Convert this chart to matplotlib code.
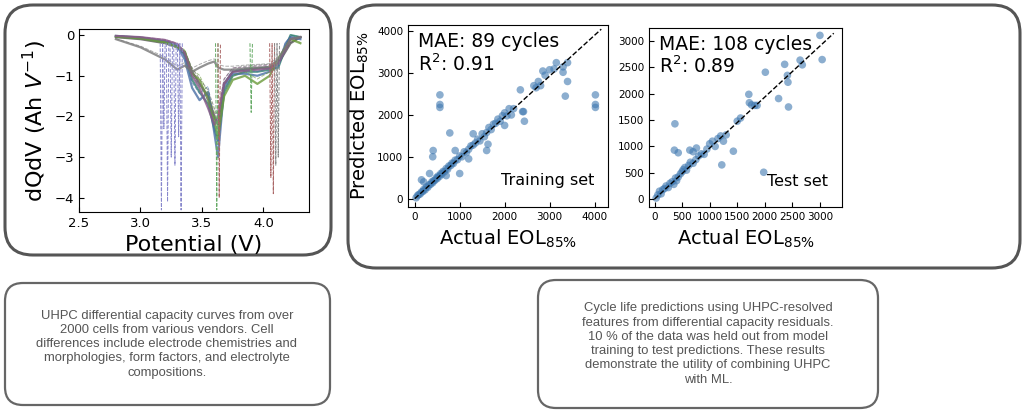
import numpy as np
import matplotlib.pyplot as plt
from matplotlib.patches import FancyBboxPatch

# ---- dQdV curves (potential V, dQ/dV) ----
curve_v = [2.8, 3.0, 3.2, 3.3, 3.36, 3.42, 3.48, 3.55, 3.6, 3.63, 3.68, 3.75, 3.85, 3.95, 4.05, 4.12, 4.18, 4.22, 4.3]
curves_dqdv = {
    '#555555': [-0.05, -0.1, -0.2, -0.3, -0.45, -0.9, -1.2, -1.5, -2.0, -2.2, -1.2, -0.9, -0.85, -0.82, -0.8, -0.7, -0.4, -0.2, -0.05],
    '#2e7d6e': [-0.02, -0.06, -0.15, -0.25, -0.5, -1.1, -1.4, -1.7, -2.3, -2.6, -1.4, -1.0, -0.9, -0.9, -0.85, -0.8, -0.3, 0.0, -0.05],
    '#4a6fa5': [-0.03, -0.07, -0.16, -0.28, -0.6, -1.3, -1.6, -1.4, -2.4, -3.0, -1.3, -0.95, -0.95, -1.0, -0.9, -0.75, -0.2, -0.05, -0.1],
    '#6a9a3a': [-0.04, -0.08, -0.18, -0.3, -0.4, -0.95, -1.1, -1.6, -2.1, -2.5, -1.5, -1.1, -1.0, -1.2, -1.0, -0.6, -0.3, -0.1, -0.2],
    '#8a5a8a': [-0.02, -0.05, -0.12, -0.22, -0.45, -1.0, -1.3, -1.8, -2.2, -2.0, -1.2, -0.9, -0.88, -0.85, -0.82, -0.7, -0.35, -0.1, -0.05],
    '#777777': [-0.1, -0.3, -0.6, -0.85, -0.75, -0.9, -0.8, -0.7, -0.65, -0.8, -0.85, -0.85, -0.82, -0.8, -0.78, -0.6, -0.3, -0.1, -0.05],
}
# sharp dashed spikes (x position, depth)
spike_x = [3.17, 3.19, 3.22, 3.25, 3.28, 3.31, 3.33, 3.62, 3.64, 3.9, 4.06, 4.08, 4.1, 4.12]
spike_y = [-4.3, -2.3, -4.1, -3.0, -3.2, -2.5, -4.3, -4.3, -4.0, -1.9, -3.5, -3.9, -3.2, -3.0]
spike_c = ['#8888cc'] * 7 + ['#66aa66', '#aa6666', '#66aa66', '#aa6666', '#aa6666', '#888888', '#888888']

# ---- training set (actual, predicted) ----
train_actual = [30, 60, 90, 120, 150, 180, 200, 230, 260, 290, 320, 350, 380, 400, 420, 450, 480, 500, 520, 550,
                580, 600, 630, 660, 700, 730, 760, 800, 830, 860, 900, 950, 1000, 1050, 1100, 1150, 1200, 1250, 1300, 1350,
                1400, 1450, 1500, 1550, 1600, 1650, 1700, 1750, 1800, 1850, 1900, 1950, 2000, 2050, 2100, 2150, 2200, 2350,
                2400, 2650, 2700, 2750, 2800, 2900, 3000, 3100, 3150, 3300, 3350, 3400, 560, 560, 560, 400, 410, 780, 4020,
                4020, 4020, 1600, 1630, 2420, 2440, 150, 200, 330, 700, 900, 1000, 1200, 1300, 2000, 2850, 3400, 3300]
train_pred = [20, 70, 100, 110, 160, 170, 220, 210, 280, 270, 330, 340, 400, 380, 430, 440, 500, 480, 540, 530,
              600, 580, 650, 640, 720, 700, 780, 790, 850, 840, 920, 930, 1020, 1000, 1120, 1100, 1180, 1260, 1280, 1330,
              1420, 1380, 1550, 1480, 1580, 1700, 1650, 1780, 1800, 1900, 1850, 1980, 2050, 1980, 2150, 2000, 2150, 2600,
              2080, 2700, 2650, 2800, 2700, 2950, 3080, 3100, 3250, 3020, 2450, 2800, 2480, 2250, 2180, 1000, 1150, 1570, 2480,
              2250, 2180, 1150, 1300, 2080, 1850, 450, 400, 600, 550, 1150, 600, 950, 1550, 1750, 3050, 3250, 3150]
# ---- test set ----
test_actual = [30, 60, 90, 120, 150, 180, 210, 250, 280, 320, 350, 380, 400, 430, 470, 500, 520, 550, 580, 620,
               650, 700, 750, 800, 850, 900, 950, 1000, 1050, 1100, 1150, 1200, 1250, 1300, 370, 360, 430, 640, 700, 760,
               1220, 1430, 1500, 1560, 1710, 1720, 1760, 1820, 1860, 2010, 2250, 2360, 2410, 2420, 2430, 2640, 2680, 3000, 3040, 1980]
test_pred = [20, 80, 150, 100, 180, 200, 250, 220, 300, 330, 280, 400, 350, 420, 480, 520, 560, 600, 550, 640,
             700, 680, 750, 820, 860, 850, 950, 1050, 1100, 1000, 1150, 1200, 1100, 1220, 1430, 930, 880, 930, 900, 970,
             650, 910, 1480, 1540, 1990, 1830, 1790, 1780, 1780, 2410, 1910, 2560, 2350, 2220, 1750, 2640, 2550, 3110, 2650, 510]

fig = plt.figure(figsize=(10.24, 4.15), dpi=100)
W, H = 1024, 415

# background layer in pixel coordinates for the rounded boxes
bg = fig.add_axes([0, 0, 1, 1], zorder=-1)
bg.set_xlim(0, W)
bg.set_ylim(H, 0)
bg.axis('off')

def rbox(x0, y0, x1, y1, lw, ec, r):
    bg.add_patch(FancyBboxPatch((x0 + r, y0 + r), x1 - x0 - 2 * r, y1 - y0 - 2 * r,
                                boxstyle='round,pad=%d' % r, fc='white', ec=ec, lw=lw))

rbox(5, 5, 331, 255, 2.2, '#555555', 28)
rbox(348, 5, 1020, 268, 2.2, '#555555', 28)
rbox(5, 283, 330, 405, 1.6, '#666666', 18)
rbox(538, 280, 878, 408, 1.6, '#666666', 18)

bg.text(167, 344, 'UHPC differential capacity curves from over\n2000 cells from various vendors. Cell\n'
        'differences include electrode chemistries and\nmorphologies, form factors, and electrolyte\ncompositions.',
        ha='center', va='center', fontsize=9.4, color='#555555', family='Liberation Sans', linespacing=1.25)
bg.text(708, 344, 'Cycle life predictions using UHPC-resolved\nfeatures from differential capacity residuals.\n'
        '10 % of the data was held out from model\ntraining to test predictions. These results\n'
        'demonstrate the utility of combining UHPC\nwith ML.',
        ha='center', va='center', fontsize=9.4, color='#555555', family='Liberation Sans', linespacing=1.25)

def axpix(x0, y0, x1, y1):
    return fig.add_axes([x0 / W, 1 - y1 / H, (x1 - x0) / W, (y1 - y0) / H])

# ---- dQdV panel ----
ax = axpix(79, 29, 309, 212)
for c, y in curves_dqdv.items():
    ax.plot(curve_v, y, color=c, lw=1.6, alpha=0.8)
    ax.plot(curve_v, np.array(y) * 0.9, color=c, lw=0.7, ls='--', alpha=0.6)
for x, y, c in zip(spike_x, spike_y, spike_c):
    ax.plot([x - 0.01, x, x + 0.01], [-0.2, y, -0.2], color=c, lw=0.7, ls='--')
ax.set_xlim(2.5, 4.37)
ax.set_ylim(-4.35, 0.15)
ax.set_xticks([2.5, 3.0, 3.5, 4.0])
ax.set_yticks([0, -1, -2, -3, -4])
ax.tick_params(direction='in', labelsize=9.5)
ax.set_xlabel('Potential (V)', fontsize=16)
ax.set_ylabel('dQdV (Ah $V^{-1}$)', fontsize=16)

# ---- scatter panels ----
def scatter_panel(rect, xa, yp, lim, ticks, mae, r2, label, ylabel):
    a = axpix(*rect)
    a.scatter(xa, yp, s=30, color='#3f78b0', alpha=0.6, edgecolors='none')
    a.plot([0, lim[1]], [0, lim[1] - 100], 'k--', lw=1)
    a.set_xlim(lim[0], lim[1] + 150)
    a.set_ylim(lim[0] - 50, lim[1])
    a.set_xticks(ticks)
    a.set_yticks(ticks)
    a.tick_params(direction='in', labelsize=7.5)
    a.text(0.05, 0.96, 'MAE: %d cycles\nR$^2$: %.2f' % (mae, r2), transform=a.transAxes,
           va='top', fontsize=13.5, linespacing=1.1)
    a.text(0.93, 0.12, label, transform=a.transAxes, ha='right', fontsize=11.5)
    a.set_xlabel('Actual EOL$_{85\\%}$', fontsize=14)
    if ylabel:
        a.set_ylabel('Predicted EOL$_{85\\%}$', fontsize=14)
    return a

scatter_panel((408, 25, 608, 207), train_actual, train_pred, (-150, 4150),
              [0, 1000, 2000, 3000, 4000], 89, 0.91, 'Training set', True)
scatter_panel((649, 28, 842, 207), test_actual, test_pred, (-100, 3250),
              [0, 500, 1000, 1500, 2000, 2500, 3000], 108, 0.89, 'Test set', False)

fig.savefig('out.png', dpi=100)
